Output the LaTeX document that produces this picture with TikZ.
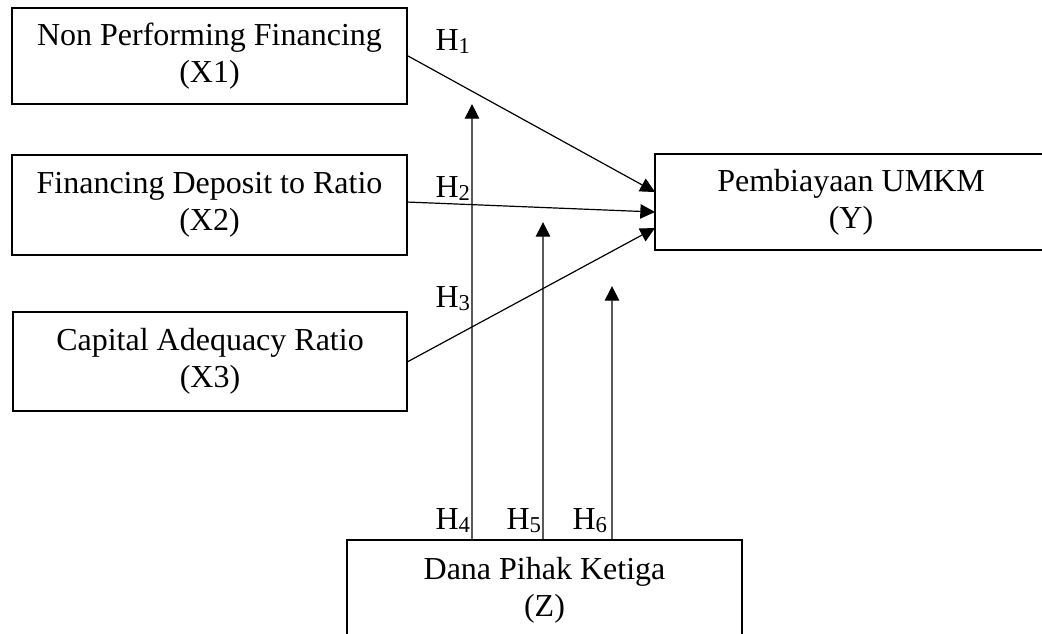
\documentclass[tikz,border=0pt]{standalone}
\usepackage{fontspec}
\setmainfont{Liberation Serif}
\usetikzlibrary{arrows.meta}
\newcommand{\hsub}[1]{\raisebox{-1.2pt}{\fontsize{8.5}{9}\selectfont #1}}
\begin{document}
\begin{tikzpicture}[x=0.375pt,y=-0.375pt,
  box/.style={draw,line width=0.8pt,align=center,inner sep=0pt,
    font=\fontsize{12}{14}\selectfont},
  arr/.style={line width=0.45pt,-{Triangle[length=5.5pt,width=5.4pt]}},
  hlab/.style={anchor=base west,inner sep=0pt,font=\fontsize{12}{14}\selectfont}]
\useasboundingbox (0,0) rectangle (1042,633);
\clip (0,0) rectangle (1042,633);
\node[box,minimum width=395*0.375pt,minimum height=96*0.375pt] (x1) at (209.5,56) {Non Performing Financing\\(X1)};
\node[box,minimum width=395*0.375pt,minimum height=100*0.375pt] (x2) at (209.5,205) {Financing Deposit to Ratio\\(X2)};
\node[box,minimum width=394*0.375pt,minimum height=99*0.375pt] (x3) at (210,361.5) {Capital Adequacy Ratio\\(X3)};
\node[box,minimum width=392*0.375pt,minimum height=96*0.375pt] (y) at (851,202) {Pembiayaan UMKM\\(Y)};
\node[box,minimum width=395*0.375pt,minimum height=100*0.375pt] (z) at (544.5,590) {Dana Pihak Ketiga\\(Z)};
\coordinate (t1) at (655,192);
\coordinate (t2) at (655,212);
\coordinate (t3) at (655,228);
\coordinate (t4) at (472,104);
\coordinate (t5) at (543,222);
\coordinate (t6) at (612,286);
\draw[arr] (x1.east) -- (t1);
\draw[arr] ([yshift=1.1pt]x2.east) -- (t2);
\draw[arr] (x3.east) -- (t3);
\draw[arr] ([xshift=-27.2pt]z.north) -- (t4);
\draw[arr] ([xshift=-0.6pt]z.north) -- (t5);
\draw[arr] ([xshift=25.3pt]z.north) -- (t6);
\node[hlab] (h1) at (435,50) {H\hsub{1}};
\node[hlab] (h2) at (435,197) {H\hsub{2}};
\node[hlab] (h3) at (435,307) {H\hsub{3}};
\node[hlab] (h4) at (435,529) {H\hsub{4}};
\node[hlab] (h5) at (506,529) {H\hsub{5}};
\node[hlab] (h6) at (572,529) {H\hsub{6}};
\end{tikzpicture}
\end{document}
